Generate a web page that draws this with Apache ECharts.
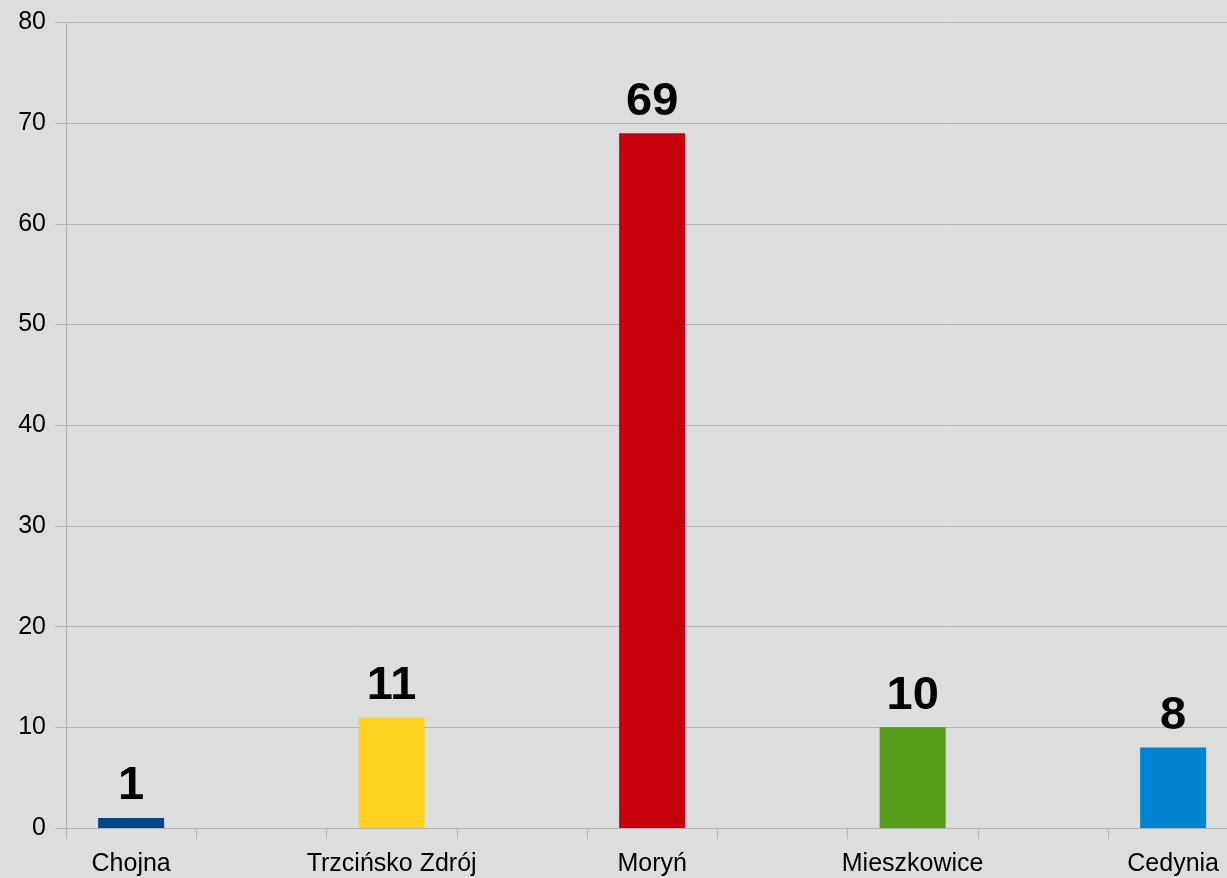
<!DOCTYPE html>
<html><head><meta charset="utf-8">
<script src="https://cdn.jsdelivr.net/npm/echarts@6/dist/echarts.min.js"></script>
<style>html,body{margin:0;padding:0;background:#dddddd;overflow:hidden}#c{width:1240px;height:878px}</style>
</head><body><div id="c"></div>
<script>
const categories = ['Chojna', 'Trzcińsko Zdrój', 'Moryń', 'Mieszkowice', 'Cedynia'];
const values = [1, 11, 69, 10, 8];
const colors = ['#004586', '#ffd320', '#c5000b', '#579d1c', '#0084d1'];
const yTicks = [0, 10, 20, 30, 40, 50, 60, 70, 80];

// Interleave blank slots between categories (as in the original chart layout)
const axisCats = [];
const seriesData = [];
categories.forEach((c, i) => {
  if (i > 0) { axisCats.push(''); seriesData.push(null); }
  axisCats.push(c);
  seriesData.push({ value: values[i], itemStyle: { color: colors[i] } });
});

const chart = echarts.init(document.getElementById('c'));
chart.setOption({
  backgroundColor: '#dddddd',
  animation: false,
  grid: { left: 66, top: 22.5, width: 1172.25, bottom: 50, containLabel: false },
  xAxis: {
    type: 'category',
    data: axisCats,
    boundaryGap: true,
    axisLine: { show: true, lineStyle: { color: '#b3b3b3', width: 1 } },
    axisTick: { show: true, length: 11, interval: 0, lineStyle: { color: '#b3b3b3' } },
    axisLabel: { interval: 0, color: '#000', fontSize: 25, fontFamily: 'Liberation Sans', margin: 24 },
    splitLine: { show: false }
  },
  yAxis: {
    type: 'value',
    min: yTicks[0], max: yTicks[yTicks.length - 1], interval: 10,
    axisLine: { show: true, lineStyle: { color: '#b3b3b3', width: 1 } },
    axisTick: { show: true, length: 11, lineStyle: { color: '#b3b3b3' } },
    axisLabel: { color: '#000', fontSize: 25, fontFamily: 'Liberation Sans', margin: 20, padding: [6, 0, 0, 0] },
    splitLine: { show: true, lineStyle: { color: '#b3b3b3', width: 1 } }
  },
  series: [{
    type: 'bar',
    data: seriesData,
    barWidth: 66,
    label: {
      show: true, position: 'top', distance: 8,
      color: '#000', fontSize: 47, fontWeight: 'bold', fontFamily: 'Liberation Sans'
    }
  }]
});
</script></body></html>
